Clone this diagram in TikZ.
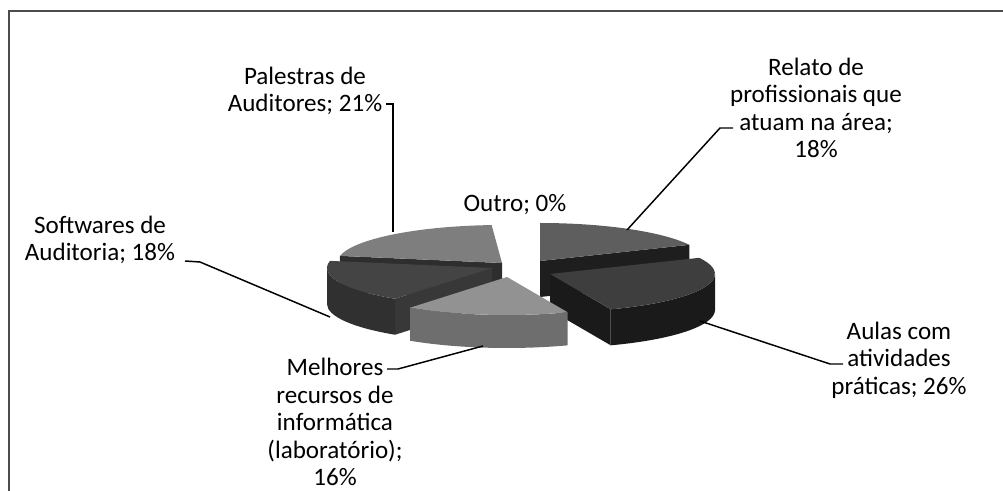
\documentclass[tikz,border=0pt]{standalone}
\usepackage{fontspec}
\setmainfont{Carlito}
\usetikzlibrary{calc}

\definecolor{palTop}{HTML}{7E7E7E}
\definecolor{palSide}{HTML}{2E2E2E}
\definecolor{relTop}{HTML}{5E5E5E}
\definecolor{relSide}{HTML}{1E1E1E}
\definecolor{swTop}{HTML}{444444}
\definecolor{swSide}{HTML}{383838}
\definecolor{aulTop}{HTML}{3E3E3E}
\definecolor{aulSide}{HTML}{1A1A1A}
\definecolor{melTop}{HTML}{929292}
\definecolor{melSide}{HTML}{6E6E6E}

\begin{document}
\begin{tikzpicture}[x=0.75pt, y=-0.75pt,
    lbl/.style={font=\fontsize{18.8}{20.6}\selectfont, align=center, inner sep=0pt},
    leader/.style={line width=1.1pt},
    frame/.style={line width=1.6pt, black!70}]
    \useasboundingbox (0,0) rectangle (1003,491);
    \draw[frame] (9,491) -- (9,11) -- (1003,11);

    % slice centres
    \coordinate (cPal) at (502,263);
    \coordinate (cRel) at (540,261);
    \coordinate (cSw) at (492,268);
    \coordinate (cAul) at (550,274);
    \coordinate (cMel) at (507,277);

    % Palestras
    \fill[palSide] (cPal) -- ($(cPal)+({165*cos(190.8)},{38*sin(190.8)})$) -- ++(0,36) -- ($(cPal)+(0,36)$) -- cycle;
    \fill[palTop] (cPal) -- ($(cPal)+({165*cos(190.8)},{38*sin(190.8)})$) arc[start angle=190.8, end angle=266.4, x radius=165, y radius=38] -- cycle;
    % Relato
    \fill[relSide] (cRel) -- ($(cRel)+({165*cos(-25.2)},{38*sin(-25.2)})$) -- ++(0,36) -- ($(cRel)+(0,36)$) -- cycle;
    \fill[relTop] (cRel) -- ($(cRel)+({165*cos(-90)},{38*sin(-90)})$) arc[start angle=-90, end angle=-25.2, x radius=165, y radius=38] -- cycle;
    % Softwares
    \fill[swSide] (cSw) -- ($(cSw)+({165*cos(126)},{38*sin(126)})$) -- ++(0,36) -- ($(cSw)+(0,36)$) -- cycle;
    \fill[swSide!85!black] ($(cSw)+({165*cos(126)},{38*sin(126)})$) arc[start angle=126, end angle=180, x radius=165, y radius=38] -- ++(0,36) arc[start angle=180, end angle=126, x radius=165, y radius=38] -- cycle;
    \fill[swTop] (cSw) -- ($(cSw)+({165*cos(126)},{38*sin(126)})$) arc[start angle=126, end angle=190.8, x radius=165, y radius=38] -- cycle;
    % Aulas
    \fill[aulSide] (cAul) -- ($(cAul)+({165*cos(68.4)},{38*sin(68.4)})$) -- ++(0,36) -- ($(cAul)+(0,36)$) -- cycle;
    \fill[aulSide] ($(cAul)+(165,0)$) arc[start angle=0, end angle=68.4, x radius=165, y radius=38] -- ++(0,36) arc[start angle=68.4, end angle=0, x radius=165, y radius=38] -- cycle;
    \fill[aulTop] (cAul) -- ($(cAul)+({165*cos(-25.2)},{38*sin(-25.2)})$) arc[start angle=-25.2, end angle=68.4, x radius=165, y radius=38] -- cycle;
    % Melhores
    \fill[melSide] ($(cMel)+({165*cos(68.4)},{38*sin(68.4)})$) arc[start angle=68.4, end angle=126, x radius=165, y radius=38] -- ++(0,33) arc[start angle=126, end angle=68.4, x radius=165, y radius=38] -- cycle;
    \fill[melTop] (cMel) -- ($(cMel)+({165*cos(68.4)},{38*sin(68.4)})$) arc[start angle=68.4, end angle=126, x radius=165, y radius=38] -- cycle;

    % labels
    \node[lbl] (palestras) at (305,91) {Palestras de\\Auditores; 21\%};
    \node[lbl] (softwares) at (100,240) {Softwares de\\Auditoria; 18\%};
    \node[lbl] (outro) at (515,205) {Outro; 0\%};
    \node[lbl] (relato) at (816,108) {Relato de\\profissionais que\\atuam na área;\\18\%};
    \node[lbl] (aulas) at (899,360) {Aulas com\\atividades\\práticas; 26\%};
    \node[lbl] (melhores) at (335,422) {Melhores\\recursos de\\informática\\(laboratório);\\16\%};

    % leader lines
    \coordinate (palestras-a) at (386,104);
    \coordinate (palestras-b) at (393,232);
    \coordinate (softwares-a) at (185,261);
    \coordinate (softwares-b) at (330,317);
    \coordinate (relato-a) at (733,128);
    \coordinate (relato-b) at (627,230);
    \coordinate (aulas-a) at (843,364);
    \coordinate (aulas-b) at (700,321);
    \coordinate (melhores-a) at (387,369);
    \coordinate (melhores-b) at (483,346);
    \draw[leader] (palestras-a) -- ++(7,0) -- (palestras-b);
    \draw[leader] (softwares-a) -- ++(15,1) -- (softwares-b);
    \draw[leader] (relato-a) -- ++(-13,0) -- (relato-b);
    \draw[leader] (aulas-a) -- ++(-13,0) -- (aulas-b);
    \draw[leader] (melhores-a) -- ++(11,0) -- (melhores-b);
\end{tikzpicture}
\end{document}
